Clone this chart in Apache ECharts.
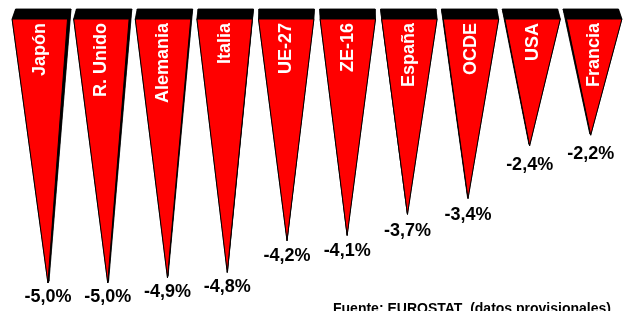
<!DOCTYPE html>
<html>
<head>
<meta charset="utf-8">
<script src="https://cdn.jsdelivr.net/npm/echarts@6/dist/echarts.min.js"></script>
<style>
    html, body {margin: 0; padding: 0; background: #fff;}
    #main {width: 625px; height: 311px;}
</style>
</head>
<body>
<div id="main"></div>
<script>
var categories = ['Japón', 'R. Unido', 'Alemania', 'Italia', 'UE-27', 'ZE-16', 'España', 'OCDE', 'USA', 'Francia'];
var values = [-5.0, -5.0, -4.9, -4.8, -4.2, -4.1, -3.7, -3.4, -2.4, -2.2];
var sourceText = 'Fuente: EUROSTAT  (datos provisionales)';

var FONT = '"Liberation Sans", Arial, sans-serif';
var VX = 320; // punto de fuga de la perspectiva

function fmt(v) {
    return v.toFixed(1).replace('.', ',') + '%';
}

var chart = echarts.init(document.getElementById('main'));

chart.setOption({
    animation: false
    , grid: {left: 9, top: 19, width: 622, height: 264}
    , xAxis: {type: 'category', data: categories, show: false}
    , yAxis: {type: 'value', min: -5, max: 0, show: false}
    , graphic: [{
        type: 'text'
        , left: 333
        , top: 302
        , style: {text: sourceText, font: 'bold 14px ' + FONT, fill: '#000'}
    }]
    , series: [{
        type: 'custom'
        , clip: false
        , data: values.map(function (v, i) { return [i, v]; })
        , encode: {x: 0, y: 1}
        , renderItem: function (params, api) {
            var i = api.value(0), v = api.value(1);
            var base = api.coord([i, 0]), end = api.coord([i, v]);
            var half = api.size([1, 0])[0] * 0.45;
            var len = end[1] - base[1];
            var tipX = base[0] + len * (VX - base[0]) * 1.1e-4;
            var dx = (VX - base[0]) * 0.0125, dy = -10;
            // cara frontal y cara trasera (la punta casi no se desplaza)
            var f = [[base[0] - half, base[1]], [base[0] + half, base[1]], [tipX, end[1]]];
            var b = [[f[0][0] + dx, f[0][1] + dy], [f[1][0] + dx, f[1][1] + dy], [tipX + dx * 0.3, end[1] - 2]];
            var black = {fill: '#000', stroke: '#000', lineWidth: 0.5};
            return {
                type: 'group'
                , children: [
                    {type: 'polygon', shape: {points: b}, style: black}
                    , {type: 'polygon', shape: {points: [f[0], f[1], b[1], b[0]]}, style: black}
                    , {type: 'polygon', shape: {points: [f[1], f[2], b[2], b[1]]}, style: black}
                    , {type: 'polygon', shape: {points: [f[0], f[2], b[2], b[0]]}, style: black}
                    , {type: 'polygon', shape: {points: f}, style: {fill: '#ff0000', stroke: '#000', lineWidth: 1}}
                    , {
                        type: 'text'
                        , x: base[0]
                        , y: base[1] + 4
                        , rotation: Math.PI / 2
                        , style: {
                            text: categories[i], fill: '#fff', font: 'bold 18px ' + FONT
                            , align: 'right', verticalAlign: 'middle'
                        }
                    }
                    , {
                        type: 'text'
                        , x: tipX
                        , y: end[1] + 23.7 - 2 * Math.abs(v)
                        , style: {
                            text: fmt(v), fill: '#000', font: 'bold 18px ' + FONT
                            , align: 'center', verticalAlign: 'middle'
                        }
                    }
                ]
            };
        }
    }]
});
</script>
</body>
</html>
